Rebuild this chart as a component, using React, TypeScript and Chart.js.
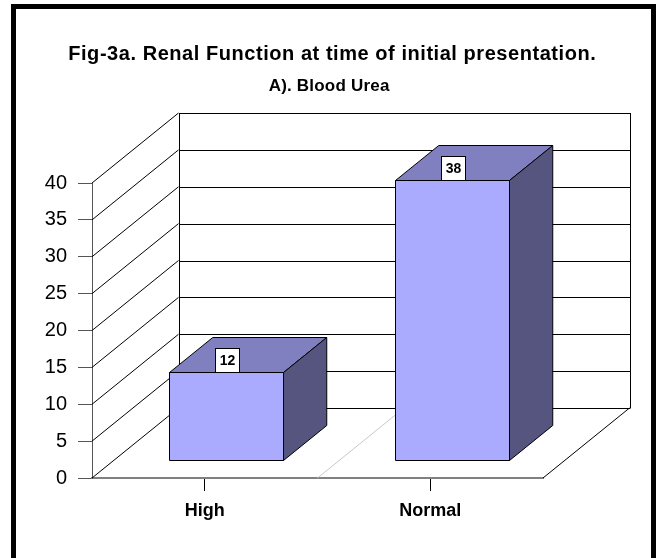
import React, { useEffect, useRef } from 'react';
import { Chart, registerables } from 'chart.js';

Chart.register(...registerables);

const categories = ['High', 'Normal'];
const bloodUreaCounts = [12, 38];
const yMin = 0;
const yMax = 40;
const yStep = 5;
const titleText = 'Fig-3a. Renal Function at time of initial presentation.';
const subtitleText = 'A). Blood Urea';

const FONT = "'Liberation Sans', Arial, Helvetica, sans-serif";
const DX = 86.5;
const DY = -70;
const BAR_FRONT = 0.25;
const BAR_DEPTH = 0.5;
const FRONT_COLOR = '#AAAAFF';
const TOP_COLOR = '#8080C0';
const SIDE_COLOR = '#555580';

const crisp = (v: number) => Math.round(v) + 0.5;

function line(ctx: CanvasRenderingContext2D, x1: number, y1: number, x2: number, y2: number) {
  ctx.beginPath();
  ctx.moveTo(x1, y1);
  ctx.lineTo(x2, y2);
  ctx.stroke();
}

function poly(ctx: CanvasRenderingContext2D, pts: number[][], fill: string) {
  ctx.beginPath();
  ctx.moveTo(pts[0][0], pts[0][1]);
  for (let i = 1; i < pts.length; i++) ctx.lineTo(pts[i][0], pts[i][1]);
  ctx.closePath();
  ctx.fillStyle = fill;
  ctx.fill();
  ctx.stroke();
}

function spacedText(ctx: CanvasRenderingContext2D, text: string, cx: number, baseline: number, spacing: number) {
  const c: any = ctx;
  c.letterSpacing = `${spacing}px`;
  const w = ctx.measureText(text).width - spacing;
  ctx.textAlign = 'left';
  ctx.textBaseline = 'alphabetic';
  ctx.fillText(text, cx - w / 2, baseline);
  c.letterSpacing = '0px';
}

const threeDPlugin = {
  id: 'threeD',
  beforeDraw(chart: any) {
    const ctx = chart.ctx as CanvasRenderingContext2D;
    ctx.save();
    ctx.fillStyle = '#ffffff';
    ctx.fillRect(0, 0, chart.width, chart.height);
    ctx.fillStyle = '#000000';
    ctx.fillRect(11, 4, 5, chart.height);
    ctx.fillRect(11, 4, chart.width - 11, 5);
    ctx.fillRect(651, 4, 5, chart.height);
    // titles
    ctx.font = `bold 20px ${FONT}`;
    spacedText(ctx, titleText, 332, 60, 0.55);
    ctx.font = `bold 17px ${FONT}`;
    spacedText(ctx, subtitleText, 329, 91, 0.2);
    ctx.restore();
  },
  beforeDatasetsDraw(chart: any) {
    const ctx = chart.ctx as CanvasRenderingContext2D;
    const a = chart.chartArea;
    const ys = chart.scales.y;
    const xs = chart.scales.x;
    ctx.save();
    ctx.lineWidth = 1;
    ctx.strokeStyle = '#c8c8c8';
    for (let i = 0; i < categories.length - 1; i++) {
      const mid = (xs.getPixelForValue(i) + xs.getPixelForValue(i + 1)) / 2;
      line(ctx, mid, a.bottom, mid + DX, a.bottom + DY);
    }
    ctx.strokeStyle = '#000000';
    const bl = crisp(a.left + DX);
    const br = crisp(a.right + DX);
    ys.ticks.forEach((t: any) => {
      const py = ys.getPixelForValue(t.value);
      line(ctx, a.left, py, a.left + DX, py + DY);
      line(ctx, bl, crisp(py + DY), br, crisp(py + DY));
    });
    line(ctx, bl, a.top + DY, bl, a.bottom + DY);
    line(ctx, br, a.top + DY, br, a.bottom + DY);
    line(ctx, a.right, a.bottom, a.right + DX, a.bottom + DY);
    ctx.restore();
  },
  afterDatasetsDraw(chart: any) {
    const ctx = chart.ctx as CanvasRenderingContext2D;
    const meta = chart.getDatasetMeta(0);
    ctx.save();
    ctx.lineWidth = 1;
    ctx.strokeStyle = '#000000';
    ctx.lineJoin = 'miter';
    meta.data.forEach((bar: any, i: number) => {
      const p = bar.getProps(['x', 'y', 'base', 'width'], true);
      const fx = DX * BAR_FRONT;
      const fy = DY * BAR_FRONT;
      const ddx = DX * BAR_DEPTH;
      const ddy = DY * BAR_DEPTH;
      const l = crisp(p.x - p.width / 2 + fx);
      const r = crisp(p.x + p.width / 2 + fx);
      const t = crisp(p.y + fy);
      const b = crisp(p.base + fy);
      poly(ctx, [[l, t], [r, t], [r, b], [l, b]], FRONT_COLOR);
      poly(ctx, [[l, t], [l + ddx, t + ddy], [r + ddx, t + ddy], [r, t]], TOP_COLOR);
      poly(ctx, [[r, t], [r + ddx, t + ddy], [r + ddx, b + ddy], [r, b]], SIDE_COLOR);
      const cx = (l + r) / 2;
      const bw = 24;
      const bh = 24;
      const bx = Math.round(cx - bw / 2) + 0.5;
      const by = t - bh;
      ctx.fillStyle = '#ffffff';
      ctx.fillRect(bx, by, bw, bh);
      ctx.strokeRect(bx, by, bw, bh);
      ctx.fillStyle = '#000000';
      ctx.font = `bold 14px ${FONT}`;
      ctx.textAlign = 'center';
      ctx.textBaseline = 'middle';
      ctx.fillText(String(bloodUreaCounts[i]), bx + bw / 2, by + bh / 2 + 1);
    });
    ctx.restore();
  },
};

export default function App() {
  const ref = useRef<HTMLCanvasElement | null>(null);
  useEffect(() => {
    document.body.style.margin = '0';
    if (!ref.current) return;
    const chart = new Chart(ref.current, {
      type: 'bar',
      data: {
        labels: categories,
        datasets: [
          {
            label: 'Blood Urea',
            data: bloodUreaCounts,
            backgroundColor: 'rgba(0,0,0,0)',
            borderWidth: 0,
            categoryPercentage: 1,
            barPercentage: 0.505,
          },
        ],
      },
      options: {
        animation: false,
        responsive: false,
        maintainAspectRatio: false,
        devicePixelRatio: 1,
        layout: { padding: { left: 0, right: 113, top: 183, bottom: 30 } },
        plugins: {
          legend: { display: false },
          tooltip: { enabled: false },
          title: { display: false },
        },
        scales: {
          x: {
            type: 'category',
            offset: true,
            grid: { offset: false, drawOnChartArea: false, tickLength: 13, color: '#000' },
            border: { color: '#808080', width: 2 },
            ticks: { color: '#000', padding: 9, font: { family: FONT, size: 18, weight: 'bold' } },
            afterFit: (s: any) => {
              s.height = 50;
            },
          },
          y: {
            min: yMin,
            max: yMax,
            ticks: { stepSize: yStep, color: '#000', padding: 11, font: { family: FONT, size: 20 } },
            grid: { drawOnChartArea: false, tickLength: 14, color: '#555' },
            border: { color: '#555' },
            afterFit: (s: any) => {
              s.width = 92;
            },
          },
        },
      },
      plugins: [threeDPlugin],
    } as any);
    return () => chart.destroy();
  }, []);
  return (
    <div style={{ width: 656, height: 558 }}>
      <canvas ref={ref} width={656} height={558} style={{ display: 'block' }} />
    </div>
  );
}
